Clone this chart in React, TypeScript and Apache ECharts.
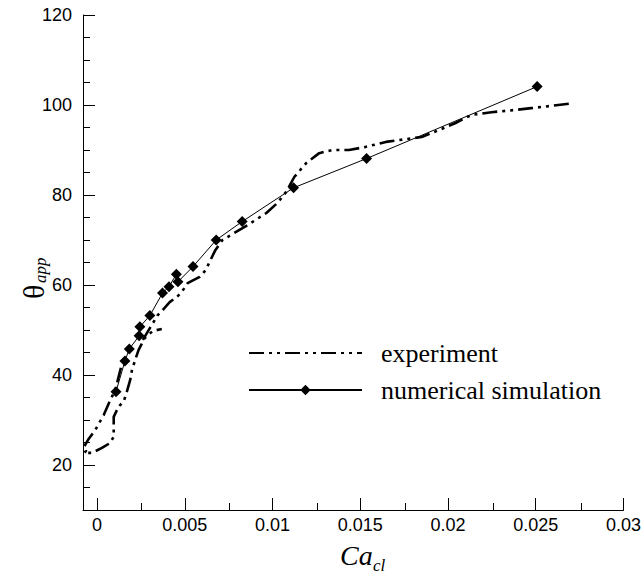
import React, { useEffect, useRef } from "react";
import * as echarts from "echarts";

// numerical simulation (diamonds)
const simX = [0.00108, 0.00159, 0.00184, 0.0024, 0.00244, 0.00301, 0.00373, 0.0041, 0.00452, 0.00461, 0.00547, 0.00679, 0.00827, 0.0112, 0.01536, 0.02508];
const simY = [36.3, 43.1, 45.8, 48.7, 50.7, 53.2, 58.2, 59.6, 62.4, 60.7, 64.1, 70.0, 74.1, 81.6, 88.1, 104.1];

// experiment, low-speed loop near the origin
const exp1X = [0.00136, 0.00104, 0.00075, 0.00038, -0.0001, -0.00051, -0.00075, -0.00062, -0.00075, -0.00028, 0.00028, 0.00075, 0.00095, 0.00095, 0.00095, 0.00123, 0.00152, 0.0017, 0.00189, 0.00199, 0.00217, 0.00237, 0.00272, 0.00318, 0.00369];
const exp1Y = [41.6, 36.7, 34.4, 31.1, 27.8, 25.6, 24.0, 23.1, 22.7, 22.7, 23.8, 24.9, 26.3, 28.5, 30.7, 33.0, 34.1, 36.3, 38.9, 41.1, 43.3, 45.6, 48.2, 49.8, 50.2];

// experiment, main curve
const exp2X = [0.00261, 0.00301, 0.00346, 0.0038, 0.00414, 0.00454, 0.00482, 0.00516, 0.00585, 0.00619, 0.00647, 0.00675, 0.00715, 0.00857, 0.00965, 0.01027, 0.01078, 0.01124, 0.01192, 0.01266, 0.0134, 0.01436, 0.01532, 0.01646, 0.01759, 0.0185, 0.01947, 0.02043, 0.02134, 0.02247, 0.02384, 0.02474, 0.02588, 0.02713];
const exp2Y = [47.8, 50.4, 53.3, 54.7, 56.2, 57.3, 58.4, 60.4, 61.8, 63.3, 65.6, 67.8, 70.0, 73.3, 76.0, 78.2, 80.7, 84.0, 87.1, 89.3, 90.0, 90.0, 90.7, 91.8, 92.4, 92.9, 94.4, 96.0, 97.8, 98.4, 98.9, 99.3, 99.8, 100.4];

// ticks
const xMajor = [0, 0.005, 0.01, 0.015, 0.02, 0.025, 0.03];
const xMinor = [0.0025, 0.0075, 0.0125, 0.0175, 0.0225, 0.0275];
const yMajor = [20, 40, 60, 80, 100, 120];
const yMinor = [10, 15, 25, 30, 35, 45, 50, 55, 65, 70, 75, 85, 90, 95, 105, 110, 115];

const X_MIN = -0.0008;
const X_MAX = 0.03;
const Y_MIN = 10;
const Y_MAX = 120;

const zip = (xs: number[], ys: number[]) => xs.map((x, i) => [x, ys[i]]);

export default function App() {
  const ref = useRef<HTMLDivElement>(null);
  useEffect(() => {
    if (!ref.current) return;
    const chart = echarts.init(ref.current, undefined, { renderer: "svg" });
    const gridRect = { left: 83, top: 15, right: 19, bottom: 69 };
    const sans = "Liberation Sans";
    const serif = "Liberation Serif";
    const expLine = { color: "#000", width: 2.6, type: [15, 5, 3, 5, 3, 5] as number[] };
    chart.setOption({
      animation: false,
      backgroundColor: "#fff",
      grid: [
        { ...gridRect },
        { ...gridRect },
      ],
      xAxis: [
        {
          type: "value",
          gridIndex: 0,
          min: X_MIN,
          max: X_MAX,
          axisLine: { show: true, onZero: false, lineStyle: { color: "#000", width: 1 } },
          axisTick: { show: true, inside: true, length: 12, customValues: xMajor, lineStyle: { color: "#000" } },
          axisLabel: { show: true, customValues: xMajor, margin: 6, color: "#000", fontSize: 18, fontFamily: sans },
          splitLine: { show: false },
        },
        {
          type: "value",
          gridIndex: 1,
          min: X_MIN,
          max: X_MAX,
          axisLine: { show: false, onZero: false },
          axisTick: { show: true, inside: true, length: 7, customValues: xMinor, lineStyle: { color: "#000" } },
          axisLabel: { show: false },
          splitLine: { show: false },
        },
      ],
      yAxis: [
        {
          type: "value",
          gridIndex: 0,
          min: Y_MIN,
          max: Y_MAX,
          axisLine: { show: true, onZero: false, lineStyle: { color: "#000", width: 1 } },
          axisTick: { show: true, inside: true, length: 12, customValues: yMajor, lineStyle: { color: "#000" } },
          axisLabel: { show: true, customValues: yMajor, margin: 11, color: "#000", fontSize: 18, fontFamily: sans },
          splitLine: { show: false },
        },
        {
          type: "value",
          gridIndex: 1,
          min: Y_MIN,
          max: Y_MAX,
          axisLine: { show: false, onZero: false },
          axisTick: { show: true, inside: true, length: 7, customValues: yMinor, lineStyle: { color: "#000" } },
          axisLabel: { show: false },
          splitLine: { show: false },
        },
      ],
      legend: {
        data: [
          { name: "experiment", itemStyle: { opacity: 0 } },
          { name: "numerical simulation" },
        ],
        orient: "vertical",
        left: 243,
        top: 335,
        itemWidth: 113,
        itemHeight: 13,
        itemGap: 11,
        selectedMode: false,
        textStyle: { fontFamily: serif, fontSize: 26, color: "#000", padding: [0, 0, 0, 14] },
      },
      series: [
        {
          name: "experiment",
          type: "line",
          xAxisIndex: 0,
          yAxisIndex: 0,
          data: zip(exp2X, exp2Y),
          symbol: "none",
          lineStyle: expLine,
          itemStyle: { color: "#000" },
          z: 2,
        },
        {
          name: "experiment",
          type: "line",
          xAxisIndex: 0,
          yAxisIndex: 0,
          data: zip(exp1X, exp1Y),
          symbol: "none",
          lineStyle: expLine,
          itemStyle: { color: "#000" },
          z: 2,
        },
        {
          name: "numerical simulation",
          type: "line",
          xAxisIndex: 0,
          yAxisIndex: 0,
          data: zip(simX, simY),
          symbol: "diamond",
          symbolSize: 11,
          lineStyle: { color: "#000", width: 1 },
          itemStyle: { color: "#000" },
          z: 3,
        },
      ],
      graphic: [
        {
          type: "group",
          x: 340,
          y: 541,
          children: [
            { type: "text", x: 0, y: 0, style: { text: "Ca", fontSize: 28, fontStyle: "italic", fontFamily: serif, fill: "#000", textVerticalAlign: "top" } },
            { type: "text", x: 33, y: 16, style: { text: "cl", fontSize: 17, fontStyle: "italic", fontFamily: serif, fill: "#000", textVerticalAlign: "top" } },
          ],
        },
        {
          type: "group",
          x: 33,
          y: 277,
          rotation: Math.PI / 2,
          children: [
            { type: "text", x: -22, y: 0, style: { text: "θ", fontSize: 30, fontFamily: serif, fill: "#000", textVerticalAlign: "middle", textAlign: "left" } },
            { type: "text", x: -6, y: 7, style: { text: "app", fontSize: 17, fontStyle: "italic", fontFamily: serif, fill: "#000", textVerticalAlign: "middle", textAlign: "left" } },
          ],
        },
      ],
    });
    return () => chart.dispose();
  }, []);
  return <div ref={ref} style={{ position: "fixed", left: 0, top: 0, width: 644, height: 579, background: "#fff" }} />;
}
